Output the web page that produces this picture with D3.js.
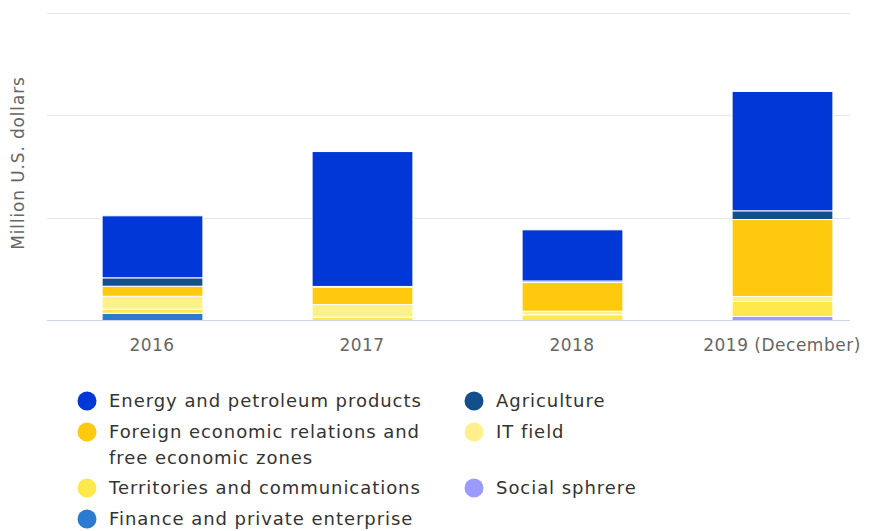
<!DOCTYPE html>
<html><head><meta charset="utf-8">
<script src="https://cdn.jsdelivr.net/npm/d3@7"></script>
<style>body{margin:0;background:#fff}svg{display:block}</style>
</head><body>
<svg id="c" width="877" height="531"></svg>
<script>
const categories = ["2016", "2017", "2018", "2019 (December)"];
const seriesNames = ["Energy and petroleum products", "Agriculture", "Foreign economic relations and free economic zones", "IT field", "Territories and communications", "Social sphrere", "Finance and private enterprise"];
const energy      = [60.6, 131.8, 50.0, 116.6];
const agriculture = [8.2, 0.8, 1.5, 8.5];
const foreign     = [9.8, 16.9, 28.0, 75.2];
const itField     = [12.7, 12.4, 3.5, 4.9];
const territories = [3.9, 3.2, 5.6, 14.7];
const social      = [0, 0, 0, 3.9];
const finance     = [7.1, 0, 0, 0];
const yTicks = [0, 100, 200, 300];
const colors = ["#0037d6", "#134f8a", "#ffc90e", "#fff08c", "#ffe94a", "#9b9bff", "#2b7bd0"];

const seriesVals = [energy, agriculture, foreign, itField, territories, social, finance];
const svg = d3.select("#c");
const y = d3.scaleLinear().domain([0, 300]).range([320, 13]);
const x = d3.scaleBand().domain(categories).range([47, 887]).paddingInner(0.52).paddingOuter(0.26);

// gridlines
svg.append("g").selectAll("line").data(yTicks.filter(d => d > 0)).join("line")
  .attr("x1", 47).attr("x2", 850).attr("y1", d => Math.round(y(d)) + 0.5).attr("y2", d => Math.round(y(d)) + 0.5)
  .attr("stroke", "#e6e6e6").attr("stroke-width", 1);

// stacks: first series on top -> stack from last
const rows = categories.map((c, i) => {
  const o = {cat: c};
  seriesNames.forEach((s, j) => o[s] = seriesVals[j][i]);
  return o;
});
const stack = d3.stack().keys(seriesNames.slice().reverse())(rows);
const g = svg.append("g");
stack.forEach(layer => {
  const color = colors[seriesNames.indexOf(layer.key)];
  g.selectAll(null).data(layer.filter(d => d[1] - d[0] > 0)).join("rect")
    .attr("x", d => x(d.data.cat) + 0.5)
    .attr("width", x.bandwidth())
    .attr("y", d => y(d[1]) + 0.5)
    .attr("height", d => Math.max(0, y(d[0]) - y(d[1])))
    .attr("fill", color).attr("stroke", "#ffffff").attr("stroke-width", 1);
});

// baseline
svg.append("line").attr("x1", 47).attr("x2", 850).attr("y1", 320.5).attr("y2", 320.5)
  .attr("stroke", "#ccd6eb").attr("stroke-width", 1);

// x labels
const xAxis = d3.axisBottom(x).tickSize(0).tickPadding(0);
const xg = svg.append("g").attr("transform", "translate(0,340)").call(xAxis);
xg.select(".domain").remove();
xg.selectAll("text").attr("font-family", "DejaVu Sans, sans-serif").attr("font-size", "17px")
  .attr("letter-spacing", "0.5px").attr("fill", "#666666").attr("dy", "0.66em");

// y title
svg.append("text").attr("transform", "translate(24,163) rotate(-90)").attr("text-anchor", "middle")
  .attr("font-family", "DejaVu Sans, sans-serif").attr("font-size", "17px").attr("letter-spacing", "0.85px")
  .attr("fill", "#666666")
  .text("Million U.S. dollars");

// legend
const legendItems = [
  {i: 0, x: 87, y: 401, lines: ["Energy and petroleum products"]},
  {i: 1, x: 474, y: 401, lines: ["Agriculture"]},
  {i: 2, x: 87, y: 432, lines: ["Foreign economic relations and", "free economic zones"]},
  {i: 3, x: 474, y: 432, lines: ["IT field"]},
  {i: 4, x: 87, y: 488, lines: ["Territories and communications"]},
  {i: 5, x: 474, y: 488, lines: ["Social sphrere"]},
  {i: 6, x: 87, y: 519, lines: ["Finance and private enterprise"]}
];
const lg = svg.append("g");
legendItems.forEach(it => {
  lg.append("circle").attr("cx", it.x).attr("cy", it.y).attr("r", 9.5).attr("fill", colors[it.i]);
  const t = lg.append("text").attr("x", it.x + 22).attr("y", it.y)
    .attr("font-family", "DejaVu Sans, sans-serif").attr("font-size", "18px").attr("letter-spacing", "0.95px")
    .attr("fill", "#333333");
  it.lines.forEach((l, k) => t.append("tspan").attr("x", it.x + 22).attr("dy", k === 0 ? "0.35em" : "26px").text(l));
});
</script>
</body></html>
